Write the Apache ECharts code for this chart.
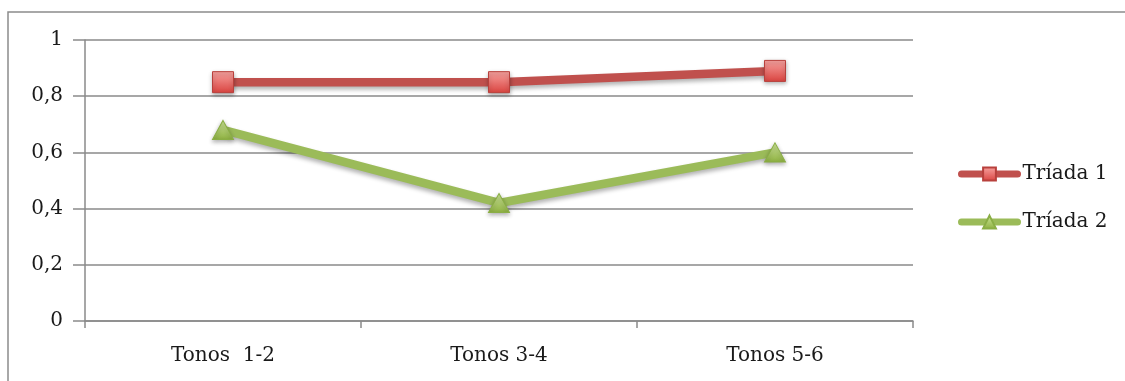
<!DOCTYPE html>
<html>
<head>
<meta charset="utf-8">
<script src="https://cdn.jsdelivr.net/npm/echarts@6/dist/echarts.min.js"></script>
<style>
  html, body { margin: 0; padding: 0; background: #fff; }
  #chart { width: 1125px; height: 381px; }
</style>
</head>
<body>
<div id="chart"></div>
<script>
// Categories and series values
const categories = ['Tonos  1-2', 'Tonos 3-4', 'Tonos 5-6'];
const triada1 = [0.85, 0.85, 0.89];
const triada2 = [0.68, 0.42, 0.60];
const seriesNames = ['Tríada 1', 'Tríada 2'];

const FONT = 'DejaVu Serif';
const GRID_COLOR = '#8a8a8a';

const chart = echarts.init(document.getElementById('chart'), null, { renderer: 'canvas' });

function grad(top, bottom) {
  return new echarts.graphic.LinearGradient(0, 0, 0, 1, [
    { offset: 0, color: top },
    { offset: 1, color: bottom }
  ]);
}

const lineShadow = {
  shadowColor: 'rgba(0,0,0,0.3)',
  shadowBlur: 4,
  shadowOffsetY: 3
};

chart.setOption({
  animation: false,
  backgroundColor: '#fff',
  graphic: [{
    type: 'rect',
    shape: { x: 8, y: 12, width: 1140, height: 400 },
    style: { fill: 'none', stroke: '#8c8c8c', lineWidth: 1.5 },
    silent: true,
    z: -1
  }],
  grid: { left: 85, top: 40, right: 212, bottom: 60 },
  legend: {
    orient: 'vertical',
    left: 953,
    top: 159,
    itemWidth: 56,
    itemHeight: 16,
    itemGap: 28,
    lineStyle: { width: 7, cap: 'round' },
    textStyle: { fontFamily: FONT, fontSize: 20, color: '#1a1a1a' },
    data: seriesNames
  },
  xAxis: {
    type: 'category',
    data: categories,
    boundaryGap: true,
    axisLine: { lineStyle: { color: GRID_COLOR, width: 1.5 } },
    axisTick: { show: true, length: 7, lineStyle: { color: GRID_COLOR, width: 1.5 } },
    axisLabel: { fontFamily: FONT, fontSize: 20, color: '#1a1a1a', margin: 25 }
  },
  yAxis: {
    type: 'value',
    min: 0,
    max: 1,
    interval: 0.2,
    axisLine: { show: true, lineStyle: { color: GRID_COLOR, width: 1.5 } },
    axisTick: { show: true, length: 12, lineStyle: { color: GRID_COLOR, width: 1.5 } },
    splitLine: { lineStyle: { color: GRID_COLOR, width: 1.5 } },
    axisLabel: {
      fontFamily: FONT,
      fontSize: 20,
      color: '#1a1a1a',
      margin: 22,
      formatter: v => String(Math.round(v * 10) / 10).replace('.', ',')
    }
  },
  series: [
    {
      name: seriesNames[0],
      type: 'line',
      data: triada1,
      symbol: 'rect',
      symbolSize: 21,
      lineStyle: Object.assign({ color: '#C0504D', width: 8.5 }, lineShadow),
      itemStyle: {
        color: grad('#F7A3A0', '#D9433F'),
        borderColor: '#B8403C',
        borderWidth: 1,
        shadowColor: 'rgba(0,0,0,0.3)',
        shadowBlur: 4,
        shadowOffsetY: 2
      },
      z: 3
    },
    {
      name: seriesNames[1],
      type: 'line',
      data: triada2,
      symbol: 'triangle',
      symbolSize: [21, 19],
      lineStyle: Object.assign({ color: '#9BBB59', width: 8.5 }, lineShadow),
      itemStyle: {
        color: grad('#CFE79A', '#8DB040'),
        borderColor: '#8AAE45',
        borderWidth: 1,
        shadowColor: 'rgba(0,0,0,0.3)',
        shadowBlur: 4,
        shadowOffsetY: 2
      },
      z: 2
    }
  ]
});
</script>
</body>
</html>
